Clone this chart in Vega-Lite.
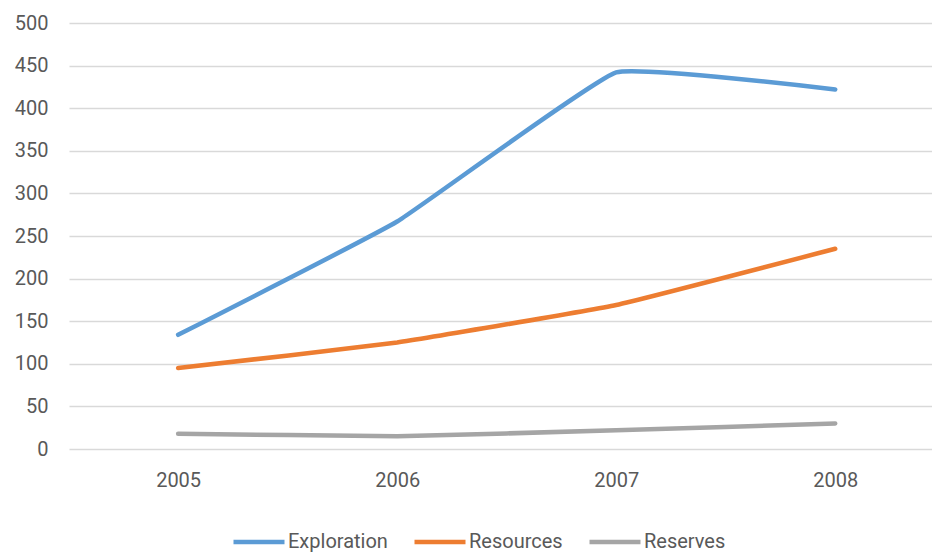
{
  "$schema": "https://vega.github.io/schema/vega-lite/v6.json",
  "autosize": "none",
  "width": 863,
  "height": 426,
  "padding": {"left": 69, "top": 23, "right": 0, "bottom": 105},
  "background": "white",
  "config": {
    "view": {"stroke": null},
    "font": "Roboto, sans-serif"
  },
  "data": {
    "values": [
      {"year": "2005", "series": "Exploration", "value": 134},
      {"year": "2006", "series": "Exploration", "value": 267},
      {"year": "2007", "series": "Exploration", "value": 442},
      {"year": "2008", "series": "Exploration", "value": 422},
      {"year": "2005", "series": "Resources", "value": 95},
      {"year": "2006", "series": "Resources", "value": 125},
      {"year": "2007", "series": "Resources", "value": 169},
      {"year": "2008", "series": "Resources", "value": 235},
      {"year": "2005", "series": "Reserves", "value": 18},
      {"year": "2006", "series": "Reserves", "value": 15},
      {"year": "2007", "series": "Reserves", "value": 22},
      {"year": "2008", "series": "Reserves", "value": 30}
    ]
  },
  "mark": {"type": "line", "strokeWidth": 4.5, "interpolate": "cardinal", "tension": 0.7, "strokeCap": "round", "strokeJoin": "round"},
  "encoding": {
    "x": {
      "field": "year",
      "type": "ordinal",
      "scale": {"type": "point", "padding": 0.47, "align": 0.53},
      "axis": {
        "title": null,
        "labelAngle": 0,
        "domain": false,
        "ticks": false,
        "grid": false,
        "labelFontSize": 20,
        "labelColor": "#595959",
        "labelPadding": 21
      }
    },
    "y": {
      "field": "value",
      "type": "quantitative",
      "scale": {"domain": [0, 500], "nice": false},
      "axis": {
        "title": null,
        "values": [0, 50, 100, 150, 200, 250, 300, 350, 400, 450, 500],
        "domain": false,
        "ticks": false,
        "gridColor": "#d9d9d9",
        "gridWidth": 1.5,
        "labelFontSize": 20,
        "labelColor": "#595959",
        "labelPadding": 21
      }
    },
    "color": {
      "field": "series",
      "type": "nominal",
      "scale": {
        "domain": ["Exploration", "Resources", "Reserves"],
        "range": ["#5B9BD5", "#ED7D31", "#A5A5A5"]
      },
      "legend": {
        "title": null,
        "orient": "none",
        "direction": "horizontal",
        "legendX": 162,
        "legendY": 491,
        "symbolType": "stroke",
        "symbolSize": 2601,
        "symbolStrokeWidth": 4.5,
        "labelFontSize": 20,
        "labelColor": "#595959",
        "labelOffset": 1,
        "columnPadding": 17
      }
    }
  }
}
